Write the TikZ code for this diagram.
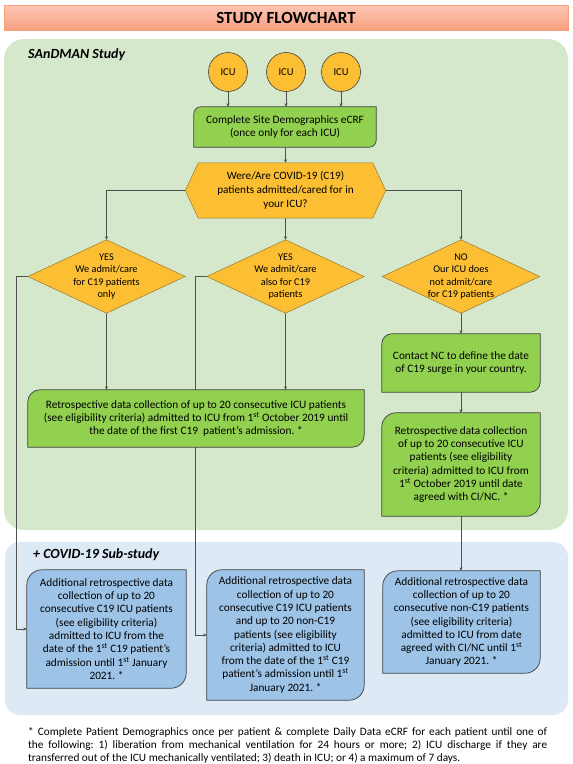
\documentclass[tikz,border=0pt]{standalone}
\usepackage{fontspec}
\setmainfont{Carlito}
\usetikzlibrary{arrows.meta,calc}
\pgfdeclarelayer{bg}\pgfdeclarelayer{conn}\pgfdeclarelayer{shp}
\pgfsetlayers{bg,conn,shp,main}
\frenchspacing

\definecolor{panelgreen}{RGB}{213,232,203}
\definecolor{panelblue}{RGB}{221,234,246}
\definecolor{boxgreen}{RGB}{146,208,80}
\definecolor{boxblue}{RGB}{157,195,230}
\definecolor{gold}{RGB}{252,191,52}
\definecolor{goldline}{RGB}{150,118,45}
\definecolor{edge}{RGB}{64,64,64}
\definecolor{conncol}{RGB}{80,80,80}
\definecolor{titletop}{RGB}{252,198,180}
\definecolor{titlebot}{RGB}{248,160,128}

\tikzset{
  boxedge/.style={draw=edge, line width=0.7pt},
  goldedge/.style={draw=goldline, line width=0.5pt, fill=gold},
  boxtext/.style={inner sep=0pt, align=center, font=\fontsize{11.3}{13.3}\selectfont},
  dtext/.style={inner sep=0pt, align=center, minimum width=157pt, minimum height=73pt, font=\fontsize{10.3}{12.2}\selectfont},
  icu/.style={circle, fill=gold, draw=edge, line width=0.6pt, minimum size=39pt, inner sep=0pt, font=\fontsize{10.5}{12}\selectfont},
  arrowline/.style={draw=conncol, line width=0.7pt, -{Stealth[length=3.5pt,width=3.2pt]}},
  panellabel/.style={anchor=west, inner sep=0pt, font=\fontsize{14}{16}\selectfont\bfseries\itshape}
}

\newcommand{\cutbox}[3]{%
  \begin{pgfonlayer}{shp}
  \filldraw[boxedge, fill=#3] ([yshift=-#2]#1.north west) arc[start angle=180, end angle=90, radius=#2] -- (#1.north east) -- ([yshift=#2]#1.south east) arc[start angle=0, end angle=-90, radius=#2] -- (#1.south west) -- cycle;
  \end{pgfonlayer}}
\newcommand{\diam}[1]{%
  \begin{pgfonlayer}{shp}
  \filldraw[goldedge] (#1.north) -- (#1.east) -- (#1.south) -- (#1.west) -- cycle;
  \end{pgfonlayer}}

\begin{document}
\begin{tikzpicture}[x=1pt, y=-1pt]
\useasboundingbox (0,0) rectangle (573,764);

% backgrounds
\begin{pgfonlayer}{bg}
  \shade[top color=titletop, bottom color=titlebot, draw=titlebot] (4,5) rectangle (568,30);
  \fill[panelgreen, rounded corners=20pt] (4,39) rectangle (568,530);
  \fill[panelblue, rounded corners=15pt] (5,542) rectangle (568,715);
\end{pgfonlayer}

\node[inner sep=0pt, font=\fontsize{17}{20}\selectfont\bfseries] (title) at (286,17.5) {STUDY FLOWCHART};
\node[panellabel] (lab1) at (28,55) {SAnDMAN Study};
\node[panellabel] (lab2) at (33,555) {+ COVID-19 Sub-study};

% ICU circles
\node[icu] (c1) at (228,72) {ICU};
\node[icu] (c2) at (286,72) {ICU};
\node[icu] (c3) at (341,72) {ICU};

% site demographics
\node[boxtext, minimum width=182pt, minimum height=40pt] (site) at (285,127) {Complete Site Demographics eCRF\\(once only for each ICU)};
\cutbox{site}{7pt}{boxgreen}

% hexagon
\node[boxtext, font=\fontsize{11.2}{14}\selectfont, minimum width=200pt, minimum height=55pt] (hex) at (285.5,190.5) {Were/Are COVID-19 (C19)\\patients admitted/cared for in\\your ICU?};
\begin{pgfonlayer}{shp}
  \filldraw[goldedge] (hex.west) -- ([xshift=13pt]hex.north west) -- ([xshift=-13pt]hex.north east) -- (hex.east) -- ([xshift=-13pt]hex.south east) -- ([xshift=13pt]hex.south west) -- cycle;
\end{pgfonlayer}

% diamonds
\node[dtext] (d1) at (106.5,276.5) {YES\\We admit/care\\for C19 patients\\only};
\node[dtext] (d2) at (285.5,276.5) {YES\\We admit/care\\also for C19\\patients};
\node[dtext] (d3) at (461,276.5) {NO\\Our ICU does\\not admit/care\\for C19 patients};
\diam{d1}\diam{d2}\diam{d3}

% green boxes
\node[boxtext, minimum width=336pt, minimum height=57pt] (lretro) at (196,418.5) {Retrospective data collection of up to 20 consecutive ICU patients\\(see eligibility criteria) admitted to ICU from 1\textsuperscript{st} October 2019 until\\the date of the first C19\ \ patient’s admission. *};
\cutbox{lretro}{12pt}{boxgreen}

\node[boxtext, minimum width=158pt, minimum height=58pt] (contact) at (461,363) {Contact NC to define the date\\of C19 surge in your country.};
\cutbox{contact}{10pt}{boxgreen}

\node[boxtext, minimum width=158pt, minimum height=103pt] (rretro) at (461,464.5) {Retrospective data collection\\of up to 20 consecutive ICU\\patients (see eligibility\\criteria) admitted to ICU from\\1\textsuperscript{st} October 2019 until date\\agreed with CI/NC. *};
\cutbox{rretro}{14pt}{boxgreen}

% blue boxes
\node[boxtext, minimum width=159pt, minimum height=118pt] (b1) at (106.5,629) {Additional retrospective data\\collection of up to 20\\consecutive C19 ICU patients\\(see eligibility criteria)\\admitted to ICU from the\\date of the 1\textsuperscript{st} C19 patient’s\\admission until 1\textsuperscript{st} January\\2021. *};
\cutbox{b1}{15pt}{boxblue}

\node[boxtext, minimum width=157pt, minimum height=130pt] (b2) at (285.5,635) {Additional retrospective data\\collection of up to 20\\consecutive C19 ICU patients\\and up to 20 non-C19\\patients (see eligibility\\criteria) admitted to ICU\\from the date of the 1\textsuperscript{st} C19\\patient’s admission until 1\textsuperscript{st}\\January 2021. *};
\cutbox{b2}{15pt}{boxblue}

\node[boxtext, minimum width=157pt, minimum height=102pt] (b3) at (461.5,622) {Additional retrospective data\\collection of up to 20\\consecutive non-C19 patients\\(see eligibility criteria)\\admitted to ICU from date\\agreed with CI/NC until 1\textsuperscript{st}\\January 2021. *};
\cutbox{b3}{15pt}{boxblue}

% connectors
\begin{pgfonlayer}{conn}
  \draw[arrowline] (c1.south) -- (c1.south |- site.north);
  \draw[arrowline] (c2.south) -- (c2.south |- site.north);
  \draw[arrowline] (c3.south) -- (c3.south |- site.north);
  \draw[arrowline] (site.south -| hex.north) -- (hex.north);
  \draw[arrowline] (hex.west) -| (d1.north);
  \draw[arrowline] (hex.east) -| (d3.north);
  \draw[arrowline] (hex.south) -- (d2.north);
  \draw[arrowline] (d1.south) -- (d1.south |- lretro.north);
  \draw[arrowline] (d2.south) -- (d2.south |- lretro.north);
  \draw[arrowline] (d1.west) -- ++(-11,0) |- (b1.west);
  \draw[arrowline] (d2.west) -- ++(-11,0) |- (b2.west);
  \draw[arrowline] (d3.south) -- (contact.north);
  \draw[arrowline] (contact.south) -- (rretro.north);
  \draw[arrowline] (rretro.south) -- (rretro.south |- b3.north);
\end{pgfonlayer}

% footnote
\node[anchor=base west, inner sep=0pt, text width=519pt, align=justify, font=\fontsize{11.3}{12.8}\selectfont] (foot) at (28,735.5) {* Complete Patient Demographics once per patient \& complete Daily Data eCRF for each patient until one of\linebreak the following: 1) liberation from mechanical ventilation for 24 hours or more; 2) ICU discharge if they are\linebreak transferred out of the ICU mechanically ventilated; 3) death in ICU; or 4) a maximum of 7 days.};

\end{tikzpicture}
\end{document}
